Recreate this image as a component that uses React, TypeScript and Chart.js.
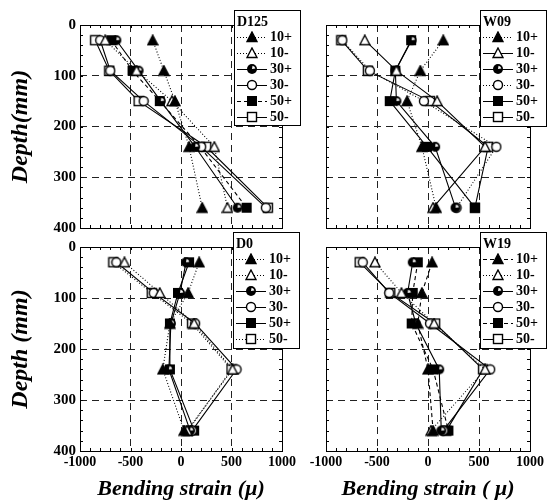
import React, { useEffect, useRef } from 'react';
import { Chart, registerables } from 'chart.js';

Chart.register(...registerables);

// ---------- data ----------
const depths = [30, 90, 150, 240, 360];
const seriesLabels = ['10+', '10-', '30+', '30-', '50+', '50-'];
const xTickValues = [-1000, -500, 0, 500, 1000];
const yTickValues = [0, 100, 200, 300, 400];

// D125
const d125_10p = [-280, -170, -60, 80, 210];
const d125_10m = [-750, -440, -90, 330, 460];
const d125_30p = [-640, -420, -200, 140, 560];
const d125_30m = [-800, -700, -370, 200, 840];
const d125_50p = [-690, -480, -210, 190, 650];
const d125_50m = [-850, -710, -420, 250, 860];

// W09
const w09_10p = [150, -75, -205, -60, 80];
const w09_10m = [-620, -310, 90, 560, 50];
const w09_30p = [-160, -320, -310, 70, 270];
const w09_30m = [-840, -570, -40, 670, 280];
const w09_50p = [-165, -320, -375, -10, 460];
const w09_50m = [-850, -590, 20, 590, 460];

// D0
const d0_10p = [180, 70, -110, -180, 30];
const d0_10m = [-560, -210, 130, 510, 60];
const d0_30p = [50, -10, -100, -120, 90];
const d0_30m = [-640, -270, 140, 550, 110];
const d0_50p = [80, -30, -110, -110, 130];
const d0_50m = [-670, -290, 110, 500, 70];

// W19
const w19_10p = [40, -60, -100, 0, 50];
const w19_10m = [-520, -260, 60, 560, 30];
const w19_30p = [-150, -200, -120, 110, 130];
const w19_30m = [-640, -380, 20, 610, 150];
const w19_50p = [-100, -150, -160, 50, 200];
const w19_50m = [-670, -370, 70, 540, 180];

// ---------- styles ----------
const SERIF = "'Liberation Serif', 'DejaVu Serif', serif";
const markerKinds = ['triF', 'triO', 'circH', 'circO', 'sqF', 'sqO'];
const DASHES: Record<string, number[]> = { dot: [1, 2], dash: [4, 3], solid: [] };

type PanelCfg = {
  name: string;
  series: number[][];
  lineStyles: string[];
  area: { left: number; top: number; right: number; bottom: number };
  showX: boolean;
  showY: boolean;
  xTitle: string;
  yTitle: string;
  legend: { x: number; y: number; w: number; h: number };
};

const panels: PanelCfg[] = [
  {
    name: 'D125',
    series: [d125_10p, d125_10m, d125_30p, d125_30m, d125_50p, d125_50m],
    lineStyles: ['dot', 'dot', 'solid', 'solid', 'dash', 'solid'],
    area: { left: 80, top: 25, right: 282, bottom: 228 },
    showX: false,
    showY: true,
    xTitle: '',
    yTitle: 'Depth(mm)',
    legend: { x: 234, y: 10, w: 66, h: 115 },
  },
  {
    name: 'W09',
    series: [w09_10p, w09_10m, w09_30p, w09_30m, w09_50p, w09_50m],
    lineStyles: ['dot', 'solid', 'solid', 'dot', 'solid', 'solid'],
    area: { left: 326, top: 25, right: 530, bottom: 228 },
    showX: false,
    showY: false,
    xTitle: '',
    yTitle: '',
    legend: { x: 480, y: 10, w: 66, h: 116 },
  },
  {
    name: 'D0',
    series: [d0_10p, d0_10m, d0_30p, d0_30m, d0_50p, d0_50m],
    lineStyles: ['dot', 'dot', 'solid', 'solid', 'solid', 'dot'],
    area: { left: 80, top: 247, right: 282, bottom: 451 },
    showX: true,
    showY: true,
    xTitle: 'Bending strain (μ)',
    yTitle: 'Depth (mm)',
    legend: { x: 233, y: 232, w: 66, h: 116 },
  },
  {
    name: 'W19',
    series: [w19_10p, w19_10m, w19_30p, w19_30m, w19_50p, w19_50m],
    lineStyles: ['dash', 'dot', 'solid', 'solid', 'dash', 'solid'],
    area: { left: 326, top: 247, right: 530, bottom: 451 },
    showX: true,
    showY: false,
    xTitle: 'Bending strain ( μ)',
    yTitle: '',
    legend: { x: 480, y: 232, w: 66, h: 116 },
  },
];

function makeMarker(kind: string): HTMLCanvasElement {
  const c = document.createElement('canvas');
  c.width = 12;
  c.height = 12;
  const g = c.getContext('2d')!;
  g.lineWidth = 1.4;
  g.strokeStyle = '#000';
  g.fillStyle = '#000';
  const tri = () => {
    g.beginPath();
    g.moveTo(6, 1);
    g.lineTo(11, 10.5);
    g.lineTo(1, 10.5);
    g.closePath();
  };
  if (kind === 'triF') {
    tri();
    g.fill();
    g.stroke();
  } else if (kind === 'triO') {
    tri();
    g.fillStyle = '#fff';
    g.fill();
    g.stroke();
  } else if (kind === 'circH') {
    g.beginPath();
    g.arc(6, 6, 5, 0, Math.PI * 2);
    g.fill();
    g.fillStyle = '#fff';
    g.beginPath();
    g.moveTo(6, 6);
    g.arc(6, 6, 3.4, -Math.PI * 0.45, -Math.PI * 0.05);
    g.closePath();
    g.fill();
  } else if (kind === 'circO') {
    g.beginPath();
    g.arc(6, 6, 4.5, 0, Math.PI * 2);
    g.fillStyle = '#fff';
    g.fill();
    g.stroke();
  } else if (kind === 'sqF') {
    g.fillRect(1, 1, 10, 10);
  } else {
    g.fillStyle = '#fff';
    g.fillRect(1, 1, 10, 10);
    g.strokeRect(1.5, 1.5, 9, 9);
  }
  return c;
}

const framePlugin = {
  id: 'frame',
  beforeDatasetsDraw(chart: any) {
    const { ctx, chartArea } = chart;
    const xs = chart.scales.x;
    const ys = chart.scales.y;
    ctx.save();
    ctx.strokeStyle = '#000';
    ctx.lineWidth = 1;
    ctx.setLineDash([]);
    ctx.beginPath();
    for (let v = -1000; v <= 1000; v += 100) {
      const px = Math.round(xs.getPixelForValue(v)) + 0.5;
      ctx.moveTo(px, chartArea.bottom);
      ctx.lineTo(px, chartArea.bottom - 3);
      ctx.moveTo(px, chartArea.top);
      ctx.lineTo(px, chartArea.top + 3);
    }
    for (let v = 0; v <= 400; v += 20) {
      const py = Math.round(ys.getPixelForValue(v)) + 0.5;
      ctx.moveTo(chartArea.left, py);
      ctx.lineTo(chartArea.left + 3, py);
      ctx.moveTo(chartArea.right, py);
      ctx.lineTo(chartArea.right - 3, py);
    }
    ctx.stroke();
    ctx.strokeRect(
      Math.round(chartArea.left) + 0.5,
      Math.round(chartArea.top) + 0.5,
      Math.round(chartArea.right - chartArea.left),
      Math.round(chartArea.bottom - chartArea.top)
    );
    ctx.restore();
  },
  afterDraw(chart: any, _args: any, opts: any) {
    const { ctx } = chart;
    const box = opts.box;
    if (!box) return;
    ctx.save();
    ctx.fillStyle = '#fff';
    ctx.fillRect(box.x, box.y, box.w, box.h);
    ctx.strokeStyle = '#000';
    ctx.lineWidth = 1;
    ctx.setLineDash([]);
    ctx.strokeRect(box.x + 0.5, box.y + 0.5, box.w, box.h);
    ctx.fillStyle = '#000';
    ctx.font = `bold 14px ${SERIF}`;
    ctx.textBaseline = 'middle';
    ctx.textAlign = 'left';
    ctx.fillText(opts.title, box.x + 3, box.y + 12);
    chart.data.datasets.forEach((ds: any, i: number) => {
      const y = Math.round(box.y + 27 + i * 16) + 0.5;
      ctx.save();
      ctx.strokeStyle = '#000';
      ctx.lineWidth = 1;
      ctx.setLineDash(ds.borderDash || []);
      ctx.beginPath();
      ctx.moveTo(box.x + 3, y);
      ctx.lineTo(box.x + 33, y);
      ctx.stroke();
      ctx.restore();
      const m = ds.pointStyle as HTMLCanvasElement;
      ctx.drawImage(m, box.x + 18 - m.width / 2, y - 0.5 - m.height / 2);
      ctx.fillStyle = '#000';
      ctx.fillText(ds.label, box.x + 36, y);
    });
    ctx.restore();
  },
};

function Panel({ cfg }: { cfg: PanelCfg }) {
  const ref = useRef<HTMLCanvasElement>(null);
  useEffect(() => {
    const markers = markerKinds.map(makeMarker);
    const { area } = cfg;
    const gridColor = (c: any) =>
      c.tick && (c.tick.value === c.scale.min || c.tick.value === c.scale.max)
        ? 'rgba(0,0,0,0)'
        : '#222';
    const chart = new Chart(ref.current!, {
      type: 'scatter',
      data: {
        datasets: cfg.series.map((vals, i) => ({
          label: seriesLabels[i],
          data: vals.map((v, j) => ({ x: v, y: depths[j] })),
          showLine: true,
          borderColor: '#000',
          borderWidth: 1.1,
          borderDash: DASHES[cfg.lineStyles[i]],
          pointStyle: markers[i] as any,
          pointRadius: 5,
          tension: 0,
        })),
      },
      options: {
        animation: false,
        responsive: false,
        events: [],
        layout: {
          padding: {
            left: cfg.showY ? 6 : area.left,
            top: area.top,
            right: 548 - area.right,
            bottom: cfg.showX ? 0 : 500 - area.bottom,
          },
        },
        plugins: {
          legend: { display: false },
          tooltip: { enabled: false },
          frame: { box: cfg.legend, title: cfg.name },
        } as any,
        scales: {
          x: {
            type: 'linear',
            min: -1000,
            max: 1000,
            afterBuildTicks: (s: any) => {
              s.ticks = xTickValues.map((v) => ({ value: v }));
            },
            afterFit: (s: any) => {
              s.height = cfg.showX ? 500 - area.bottom : 0;
            },
            ticks: {
              display: cfg.showX,
              color: '#000',
              padding: 3,
              maxRotation: 0,
              autoSkip: false,
              callback: (v: any) => String(v),
              font: { family: SERIF, size: 14, weight: 'bold' },
            },
            grid: { color: gridColor, lineWidth: 1, drawTicks: false },
            border: { display: false, dash: [7, 5] },
            title: {
              display: cfg.showX,
              text: cfg.xTitle,
              color: '#000',
              padding: 0,
              font: { family: SERIF, size: 22, weight: 'bold', style: 'italic', lineHeight: 1 },
            },
          },
          y: {
            type: 'linear',
            min: 0,
            max: 400,
            reverse: true,
            afterBuildTicks: (s: any) => {
              s.ticks = yTickValues.map((v) => ({ value: v }));
            },
            afterFit: (s: any) => {
              s.width = cfg.showY ? area.left - 6 : 0;
            },
            ticks: {
              display: cfg.showY,
              color: '#000',
              padding: 4,
              autoSkip: false,
              callback: (v: any) => String(v),
              font: { family: SERIF, size: 15, weight: 'bold' },
            },
            grid: { color: gridColor, lineWidth: 1, drawTicks: false },
            border: { display: false, dash: [7, 5] },
            title: {
              display: cfg.showY,
              text: cfg.yTitle,
              color: '#000',
              padding: 0,
              font: { family: SERIF, size: 24, weight: 'bold', style: 'italic', lineHeight: 1.2 },
            },
          },
        },
      } as any,
      plugins: [framePlugin as any],
    });
    return () => chart.destroy();
  }, []);
  return (
    <canvas
      ref={ref}
      width={548}
      height={500}
      style={{ position: 'absolute', left: 0, top: 0, width: 548, height: 500 }}
    />
  );
}

export default function App() {
  return (
    <div
      style={{
        position: 'absolute',
        left: 0,
        top: 0,
        width: 548,
        height: 500,
        background: '#fff',
        overflow: 'hidden',
      }}
    >
      {panels.map((p) => (
        <Panel key={p.name} cfg={p} />
      ))}
    </div>
  );
}
